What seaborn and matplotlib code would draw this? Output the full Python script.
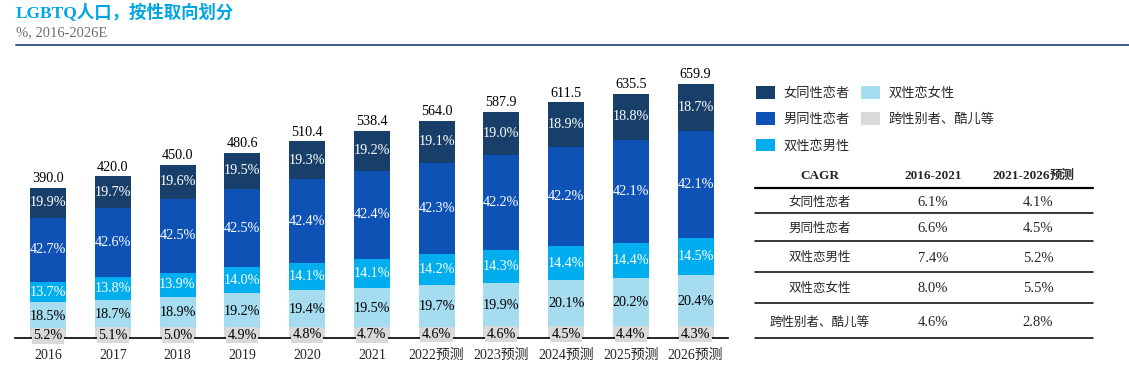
import numpy as np
import pandas as pd
import seaborn as sns
import matplotlib.pyplot as plt
from matplotlib.patches import Patch

#%% data
years = ['2016', '2017', '2018', '2019', '2020', '2021',
         '2022预测', '2023预测', '2024预测', '2025预测', '2026预测']
totals = [390.0, 420.0, 450.0, 480.6, 510.4, 538.4, 564.0, 587.9, 611.5, 635.5, 659.9]

# shares in %, bottom -> top
trans = [5.2, 5.1, 5.0, 4.9, 4.8, 4.7, 4.6, 4.6, 4.5, 4.4, 4.3]
bi_female = [18.5, 18.7, 18.9, 19.2, 19.4, 19.5, 19.7, 19.9, 20.1, 20.2, 20.4]
bi_male = [13.7, 13.8, 13.9, 14.0, 14.1, 14.1, 14.2, 14.3, 14.4, 14.4, 14.5]
gay = [42.7, 42.6, 42.5, 42.5, 42.4, 42.4, 42.3, 42.2, 42.2, 42.1, 42.1]
lesbian = [19.9, 19.7, 19.6, 19.5, 19.3, 19.2, 19.1, 19.0, 18.9, 18.8, 18.7]

cagr_names = ['女同性恋者', '男同性恋者', '双性恋男性', '双性恋女性', '跨性别者、酷儿等']
cagr_hist = ['6.1%', '6.6%', '7.4%', '8.0%', '4.6%']
cagr_fcst = ['4.1%', '4.5%', '5.2%', '5.5%', '2.8%']

#%% styling
sns.set_style('white')
plt.rcParams['font.family'] = ['Liberation Serif', 'Noto Sans CJK SC']

W, H = 1129, 377
layers = [  # bottom -> top
    ('跨性别者、酷儿等', trans, '#D9D9D9', 'black'),
    ('双性恋女性', bi_female, '#A6DCF0', 'black'),
    ('双性恋男性', bi_male, '#00ADEE', 'white'),
    ('男同性恋者', gay, '#0F52B5', 'white'),
    ('女同性恋者', lesbian, '#183F6A', 'white'),
]

df = pd.DataFrame({'year': years, 'total': totals})
shares = np.array([l[1] for l in layers])          # 5 x 11
cum = np.cumsum(shares, axis=0) / 100 * np.array(totals)
seg = shares / 100 * np.array(totals)

fig = plt.figure(figsize=(W / 100, H / 100), dpi=100)
ax = fig.add_axes([15 / W, (H - 338) / H, (728 - 15) / W, (338 - 60) / H])

# stacked bars: draw cumulative heights from the top layer down
for i in range(len(layers) - 1, -1, -1):
    df['h'] = cum[i]
    sns.barplot(data=df, x='year', y='h', color=layers[i][2], saturation=1,
                width=0.556, linewidth=0, ax=ax)

for j in range(len(years)):
    for i, (name, vals, col, tcol) in enumerate(layers):
        yc = cum[i][j] - seg[i][j] / 2
        if i == 0:
            ax.text(j, yc - 4, f'{vals[j]:.1f}%', ha='center', va='center',
                    fontsize=10.2, color=tcol, zorder=5,
                    bbox=dict(boxstyle='square,pad=0.1', fc='#D9D9D9', ec='none'))
        else:
            ax.text(j, yc, f'{vals[j]:.1f}%', ha='center', va='center',
                    fontsize=10.2, color=tcol, zorder=5)
    ax.text(j, totals[j] + 7, f'{totals[j]:.1f}', ha='center', va='bottom',
            fontsize=10.2, color='black')

ax.set_xlim(-0.51, 10.5)
ax.set_ylim(0, 722)
ax.set_xlabel('')
ax.set_ylabel('')
ax.set_yticks([])
ax.tick_params(axis='x', length=0, pad=8, labelsize=10)
sns.despine(ax=ax, left=True)
ax.spines['bottom'].set_color('black')
ax.spines['bottom'].set_linewidth(1.2)
ax.patch.set_alpha(0)

#%% overlay in pixel coords: title, rule, table
ov = fig.add_axes([0, 0, 1, 1], zorder=-1)
ov.set_xlim(0, W)
ov.set_ylim(H, 0)
ov.axis('off')

ov.text(16, 13, 'LGBTQ人口，按性取向划分', fontsize=12.5, fontweight='bold',
        color='#00A6E4', ha='left', va='center')
ov.text(16, 33, '%, 2016-2026E', fontsize=10.5, color='#6E6E6E', ha='left', va='center')
ov.plot([16, W], [45, 45], color='#2E4B80', lw=1.3)

# legend
handles = [Patch(fc=l[2], ec='none') for l in layers[::-1]]
labels = [l[0] for l in layers[::-1]]
fig.legend(handles, labels,
           loc='upper left', bbox_to_anchor=(756 / W, 1 - 86 / H), ncol=2,
           frameon=False, fontsize=9.5, handlelength=1.45, handleheight=1.1,
           handletextpad=0.6, columnspacing=0.9, labelspacing=0.95, borderpad=0,
           borderaxespad=0)

# CAGR table
cx = [820, 933, 1038]
hy = 179
ov.text(cx[0], hy, 'CAGR', fontsize=9.5, fontweight='bold', ha='center', va='baseline')
ov.text(cx[1], hy, '2016-2021', fontsize=9.5, fontweight='bold', ha='center', va='baseline')
ov.text(cx[2] + 12, hy, '2021-2026', fontsize=9.5, fontweight='bold', ha='right', va='baseline')
ov.text(cx[2] + 12, hy, '预测', fontsize=9, fontweight='bold', ha='left', va='baseline',
        family='Noto Sans CJK SC')
ov.plot([755, 1093], [188, 188], color='black', lw=1.6)
row_lines = [213, 241, 272, 303, 338]
row_y = [203, 229, 258, 289, 323]
for k in range(len(cagr_names)):
    ov.text(cx[0], row_y[k], cagr_names[k], fontsize=9, ha='center', va='center')
    ov.text(cx[1], row_y[k], cagr_hist[k], fontsize=10.5, ha='center', va='center')
    ov.text(cx[2], row_y[k], cagr_fcst[k], fontsize=10.5, ha='center', va='center')
    ov.plot([755, 1093], [row_lines[k], row_lines[k]], color='black', lw=1.1)

fig.savefig('out.png', dpi=100)
